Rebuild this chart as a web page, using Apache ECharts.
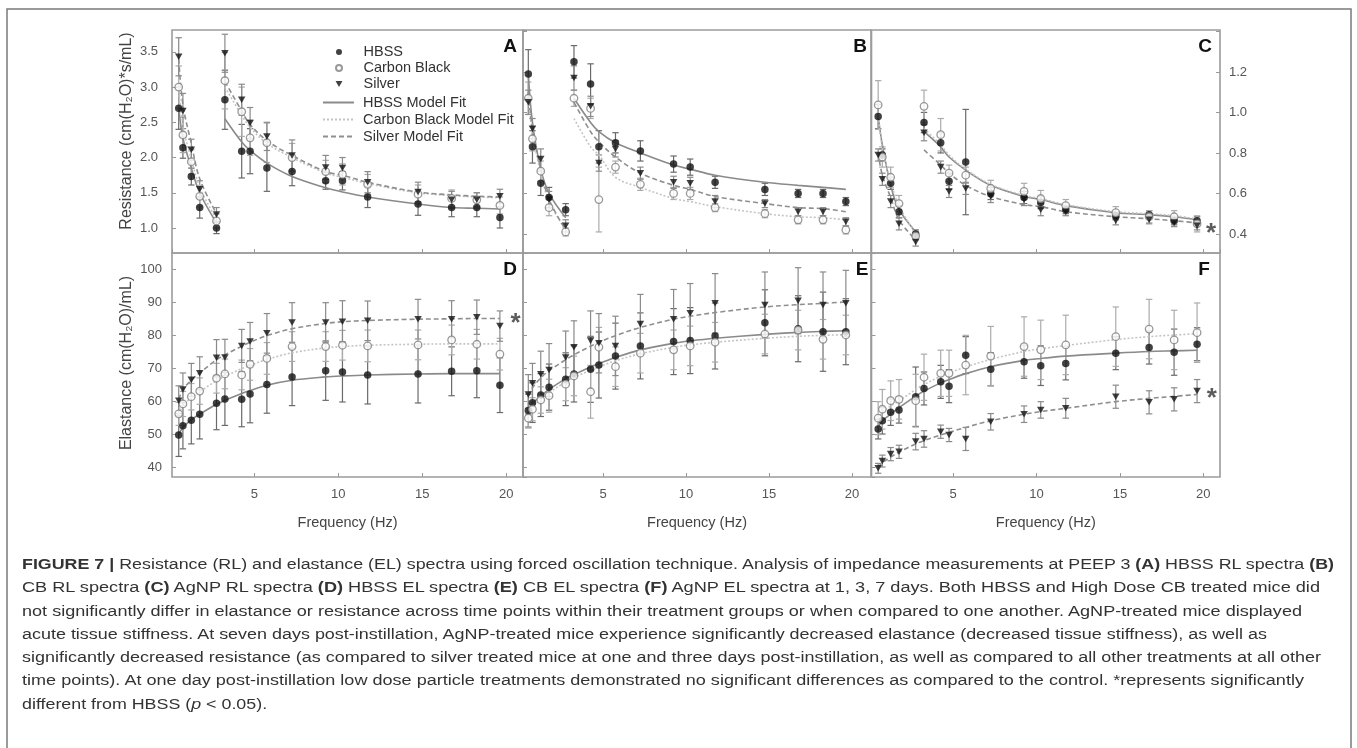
<!DOCTYPE html>
<html><head><meta charset="utf-8">
<script src="https://cdn.jsdelivr.net/npm/echarts@6/dist/echarts.min.js"></script>
<style>
html,body{margin:0;padding:0;background:#fff;}
#chart{position:absolute;left:0;top:0;width:1357px;height:748px;}
#caption{position:absolute;left:22px;top:552px;font-family:"Liberation Sans",Arial,sans-serif;font-size:15.5px;color:#333;}
#caption div{white-space:nowrap;height:23.3px;line-height:23.3px;transform-origin:0 50%;}
</style></head><body>
<div id="chart"></div>
<div id="caption"></div>
<script>
// ---------- DATA ----------
const freqs = [0.5, 0.75, 1.25, 1.75, 2.75, 3.25, 4.25, 4.75, 5.75, 7.25, 9.25, 10.25, 11.75, 14.75, 16.75, 18.25, 19.625];
const resistanceBreak = 5; // resistance curves restart at this frequency index

// Panel A: HBSS resistance
const aHbss    = [2.70, 2.14, 1.73, 1.29, 1.00, 2.82, 2.09, 2.09, 1.85, 1.80, 1.67, 1.67, 1.44, 1.34, 1.29, 1.29, 1.15];
const aHbssSd  = [0.30, 0.15, 0.12, 0.15, 0.08, 0.42, 0.38, 0.32, 0.33, 0.20, 0.12, 0.13, 0.15, 0.16, 0.13, 0.13, 0.15];
const aCb      = [3.00, 2.32, 1.94, 1.45, 1.10, 3.09, 2.65, 2.28, 2.21, 2.00, 1.80, 1.76, 1.62, 1.48, 1.42, 1.40, 1.32];
const aCbSd    = [0.30, 0.25, 0.18, 0.15, 0.10, 0.40, 0.35, 0.25, 0.28, 0.20, 0.16, 0.15, 0.14, 0.13, 0.12, 0.10, 0.12];
const aAg      = [3.43, 2.66, 2.11, 1.55, 1.19, 3.48, 2.82, 2.49, 2.30, 2.03, 1.86, 1.85, 1.65, 1.51, 1.40, 1.40, 1.45];
const aAgSd    = [0.27, 0.25, 0.15, 0.12, 0.10, 0.27, 0.22, 0.22, 0.20, 0.22, 0.17, 0.15, 0.15, 0.14, 0.12, 0.10, 0.10];
const aHbssFit = [2.70, 2.28, 1.85, 1.50, 1.07, 2.55, 2.22, 2.10, 1.92, 1.73, 1.57, 1.51, 1.44, 1.34, 1.29, 1.28, 1.27];
const aCbFit   = [3.00, 2.45, 1.98, 1.58, 1.12, 3.00, 2.60, 2.43, 2.20, 2.00, 1.78, 1.72, 1.63, 1.50, 1.46, 1.44, 1.43];
const aAgFit   = [3.40, 2.75, 2.20, 1.70, 1.20, 3.08, 2.66, 2.47, 2.24, 2.03, 1.80, 1.75, 1.65, 1.51, 1.47, 1.45, 1.44];

// Panel B: CB resistance
const bHbss    = [1.19, 0.83, 0.65, 0.58, 0.52, 1.25, 1.14, 0.83, 0.85, 0.81, 0.745, 0.73, 0.655, 0.62, 0.60, 0.60, 0.56];
const bHbssSd  = [0.12, 0.08, 0.06, 0.05, 0.03, 0.08, 0.10, 0.08, 0.05, 0.05, 0.04, 0.04, 0.03, 0.03, 0.02, 0.02, 0.02];
const bCb      = [1.07, 0.87, 0.71, 0.53, 0.41, 1.07, 1.02, 0.57, 0.73, 0.645, 0.60, 0.60, 0.53, 0.50, 0.47, 0.47, 0.42];
const bCbSd    = [0.08, 0.06, 0.05, 0.04, 0.02, 0.04, 0.05, 0.16, 0.03, 0.03, 0.03, 0.03, 0.02, 0.02, 0.02, 0.02, 0.02];
const bAg      = [1.05, 0.92, 0.77, 0.57, 0.44, 1.17, 1.03, 0.75, 0.82, 0.70, 0.655, 0.65, 0.56, 0.55, 0.51, 0.51, 0.46];
const bAgSd    = [0.06, 0.05, 0.05, 0.04, 0.03, 0.06, 0.05, 0.04, 0.04, 0.03, 0.03, 0.03, 0.03, 0.02, 0.02, 0.02, 0.02];
const bHbssFit = [1.19, 0.95, 0.72, 0.60, 0.48, 1.07, 0.95, 0.905, 0.85, 0.80, 0.74, 0.72, 0.69, 0.655, 0.64, 0.63, 0.62];
const bCbFit   = [1.08, 0.90, 0.70, 0.56, 0.42, 0.97, 0.83, 0.79, 0.68, 0.63, 0.575, 0.56, 0.535, 0.50, 0.485, 0.48, 0.47];
const bAgFit   = [1.10, 0.92, 0.72, 0.57, 0.42, 1.05, 0.905, 0.855, 0.78, 0.70, 0.64, 0.62, 0.585, 0.55, 0.53, 0.525, 0.51];

// Panel C: AgNP resistance
const cHbss    = [0.98, 0.79, 0.65, 0.51, 0.40, 0.95, 0.85, 0.66, 0.755, 0.60, 0.58, 0.555, 0.52, 0.49, 0.495, 0.465, 0.465];
const cHbssSd  = [0.06, 0.03, 0.03, 0.03, 0.02, 0.05, 0.05, 0.04, 0.26, 0.03, 0.03, 0.03, 0.02, 0.02, 0.02, 0.02, 0.02];
const cCb      = [1.037, 0.78, 0.68, 0.55, 0.39, 1.03, 0.89, 0.70, 0.69, 0.625, 0.61, 0.575, 0.54, 0.505, 0.485, 0.485, 0.45];
const cCbSd    = [0.12, 0.05, 0.05, 0.04, 0.02, 0.08, 0.08, 0.04, 0.04, 0.04, 0.04, 0.04, 0.03, 0.03, 0.03, 0.03, 0.04];
const cAg      = [0.79, 0.67, 0.56, 0.45, 0.36, 0.90, 0.73, 0.61, 0.625, 0.585, 0.57, 0.52, 0.51, 0.465, 0.47, 0.456, 0.44];
const cAgSd    = [0.03, 0.03, 0.03, 0.03, 0.02, 0.04, 0.03, 0.03, 0.03, 0.03, 0.03, 0.03, 0.02, 0.02, 0.02, 0.02, 0.02];
const cHbssFit = [0.98, 0.84, 0.64, 0.52, 0.41, 0.905, 0.83, 0.78, 0.715, 0.64, 0.585, 0.57, 0.54, 0.505, 0.495, 0.485, 0.47];
const cCbFit   = [1.00, 0.82, 0.66, 0.54, 0.40, 0.92, 0.84, 0.79, 0.72, 0.645, 0.59, 0.575, 0.545, 0.51, 0.50, 0.49, 0.475];
const cAgFit   = [0.80, 0.69, 0.58, 0.47, 0.37, 0.815, 0.74, 0.70, 0.64, 0.585, 0.545, 0.535, 0.51, 0.485, 0.475, 0.465, 0.455];

// Panel D: HBSS elastance
const dHbss    = [49.7, 52.5, 54.2, 56.0, 59.3, 60.6, 60.5, 62.1, 65.0, 67.3, 69.2, 68.8, 67.9, 68.2, 69.0, 69.2, 64.8];
const dHbssSd  = [6.5, 7.0, 7.2, 7.5, 8.0, 8.0, 8.3, 8.7, 8.7, 8.7, 9.0, 9.1, 8.8, 8.8, 7.4, 8.2, 8.3];
const dCb      = [56.1, 59.1, 61.3, 63.0, 66.9, 68.2, 67.9, 71.1, 72.9, 76.5, 76.5, 76.9, 76.7, 77.0, 78.5, 77.2, 74.2];
const dCbSd    = [3.5, 3.8, 4.0, 4.0, 4.5, 4.5, 4.5, 4.8, 4.8, 4.5, 4.5, 4.5, 4.8, 4.5, 4.5, 4.5, 4.8];
const dAg      = [60.1, 63.5, 66.4, 68.4, 73.1, 73.2, 76.7, 78.0, 80.5, 83.8, 83.8, 84.0, 84.3, 84.8, 84.8, 85.4, 82.7];
const dAgSd    = [4.5, 5.0, 5.0, 5.0, 5.5, 5.5, 5.0, 5.8, 6.0, 6.0, 6.0, 6.4, 6.0, 6.0, 5.6, 5.2, 4.6];
const dHbssFit = [49.8, 52.0, 54.3, 56.0, 59.0, 60.2, 62.3, 63.2, 64.8, 66.3, 67.3, 67.6, 67.9, 68.2, 68.3, 68.3, 68.3];
const dCbFit   = [56.0, 58.5, 61.0, 62.8, 66.2, 67.5, 69.8, 70.8, 72.6, 74.6, 76.1, 76.5, 76.9, 77.2, 77.3, 77.3, 77.3];
const dAgFit   = [60.5, 63.5, 66.3, 68.5, 72.5, 74.0, 76.6, 77.8, 79.8, 81.9, 83.5, 84.0, 84.4, 84.8, 84.9, 85.0, 85.0];

// Panel E: CB elastance
const eHbss    = [57.1, 59.5, 61.8, 64.2, 66.6, 68.2, 69.6, 70.9, 73.6, 76.7, 78.0, 78.3, 79.7, 83.7, 81.9, 81.0, 81.0];
const eHbssSd  = [5, 6, 6.5, 7, 8, 8.5, 10, 10, 10, 10, 10, 10, 10, 10, 10, 12, 10];
const eCb      = [54.8, 57.5, 60.3, 61.6, 65.1, 67.6, 62.8, 76.3, 70.4, 74.5, 75.5, 76.7, 77.8, 80.3, 81.5, 78.7, 80.0];
const eCbSd    = [3, 3.5, 4, 5, 5, 6, 8, 6, 6, 6, 6, 6, 6, 6, 6, 6, 6];
const eAg      = [62.0, 65.4, 68.1, 69.4, 73.2, 76.3, 78.3, 77.5, 76.7, 83.3, 84.8, 86.6, 89.6, 89.1, 90.4, 89.1, 89.6];
const eAgSd    = [6, 6, 7, 8, 8, 8, 9, 9, 9, 9, 9, 9, 9, 10, 10, 10, 10];
const eHbssFit = [57.0, 59.3, 61.5, 63.5, 66.8, 68.0, 70.3, 71.3, 73.2, 75.5, 77.5, 78.2, 79.0, 80.2, 80.8, 81.1, 81.3];
const eCbFit   = [55.5, 58.0, 60.5, 62.5, 65.8, 67.2, 69.3, 70.3, 72.2, 74.3, 76.3, 77.0, 77.8, 79.0, 79.6, 79.9, 80.1];
const eAgFit   = [61.5, 64.0, 67.0, 69.2, 72.5, 74.0, 76.6, 77.8, 79.8, 82.3, 84.8, 85.7, 86.8, 88.5, 89.2, 89.6, 90.0];

// Panel F: AgNP elastance
const fHbss    = [51.5, 54.0, 56.6, 57.3, 61.3, 63.8, 65.8, 64.5, 73.9, 69.6, 71.9, 70.7, 71.4, 74.5, 76.2, 74.8, 77.2];
const fHbssSd  = [3, 4, 4, 4, 9, 5, 5, 5, 5.6, 5, 5, 6, 5, 5, 5, 7, 5];
const fCb      = [54.8, 57.5, 60.1, 60.5, 60.1, 67.2, 68.4, 68.4, 70.9, 73.6, 76.5, 75.5, 77.0, 79.5, 81.8, 78.5, 80.7];
const fCbSd    = [5, 6, 6, 6, 8, 7, 7, 7, 9, 9, 9, 9, 9, 9, 9, 9, 9];
const fAg      = [39.6, 41.8, 43.9, 44.6, 47.7, 48.5, 50.7, 49.7, 48.5, 53.7, 56.0, 57.3, 57.8, 61.3, 59.6, 60.5, 63.0];
const fAgSd    = [1.5, 1.8, 2, 2, 2.5, 2.5, 2, 2, 3.5, 2.5, 2.5, 2.5, 3, 3.5, 3.5, 3.5, 3.5];
const fHbssFit = [52.0, 54.0, 56.0, 58.0, 61.5, 63.0, 65.5, 66.5, 68.3, 70.4, 72.3, 72.9, 73.6, 74.5, 75.0, 75.2, 75.4];
const fCbFit   = [54.5, 56.5, 58.5, 60.0, 63.5, 65.0, 67.5, 68.5, 70.3, 72.6, 75.0, 75.8, 76.8, 78.6, 79.5, 80.0, 80.4];
const fAgFit   = [39.8, 41.3, 43.0, 44.5, 47.0, 48.0, 49.7, 50.5, 52.0, 54.0, 56.0, 56.8, 57.8, 59.8, 60.8, 61.4, 62.0];

// significance marks: [panel, frequency, value]
const stars = [['C', 20.4, 0.425], ['D', 20.5, 84.8], ['F', 20.45, 62.1]];

const seriesNames = ['HBSS', 'Carbon Black', 'Silver'];
const fitNames = ['HBSS Model Fit', 'Carbon Black Model Fit', 'Silver Model Fit'];
const yTitleR = 'Resistance (cm(H\u2082O)*s/mL)';
const yTitleE = 'Elastance (cm(H\u2082O)/mL)';
const xTitle = 'Frequency (Hz)';

const captionLines = [
  '<b>FIGURE 7 |</b> Resistance (RL) and elastance (EL) spectra using forced oscillation technique. Analysis of impedance measurements at PEEP 3 <b>(A)</b> HBSS RL spectra <b>(B)</b>',
  'CB RL spectra <b>(C)</b> AgNP RL spectra <b>(D)</b> HBSS EL spectra <b>(E)</b> CB EL spectra <b>(F)</b> AgNP EL spectra at 1, 3, 7 days. Both HBSS and High Dose CB treated mice did',
  'not significantly differ in elastance or resistance across time points within their treatment groups or when compared to one another. AgNP-treated mice displayed',
  'acute tissue stiffness. At seven days post-instillation, AgNP-treated mice experience significantly decreased elastance (decreased tissue stiffness), as well as',
  'significantly decreased resistance (as compared to silver treated mice at one and three days post-instillation, as well as compared to all other treatments at all other',
  'time points). At one day post-instillation low dose particle treatments demonstrated no significant differences as compared to the control. *represents significantly',
  'different from HBSS (<i>p</i> &lt; 0.05).'
];
// right end (px) of each caption line in the reference; null = natural width at common scale
const captionEnds = [1334, 1320, 1302, 1267, 1321, 1304, null];

const panelData = {
  A: {hbss: aHbss, hbssSd: aHbssSd, cb: aCb, cbSd: aCbSd, ag: aAg, agSd: aAgSd, fits: [aHbssFit, aCbFit, aAgFit]},
  B: {hbss: bHbss, hbssSd: bHbssSd, cb: bCb, cbSd: bCbSd, ag: bAg, agSd: bAgSd, fits: [bHbssFit, bCbFit, bAgFit]},
  C: {hbss: cHbss, hbssSd: cHbssSd, cb: cCb, cbSd: cCbSd, ag: cAg, agSd: cAgSd, fits: [cHbssFit, cCbFit, cAgFit]},
  D: {hbss: dHbss, hbssSd: dHbssSd, cb: dCb, cbSd: dCbSd, ag: dAg, agSd: dAgSd, fits: [dHbssFit, dCbFit, dAgFit]},
  E: {hbss: eHbss, hbssSd: eHbssSd, cb: eCb, cbSd: eCbSd, ag: eAg, agSd: eAgSd, fits: [eHbssFit, eCbFit, eAgFit]},
  F: {hbss: fHbss, hbssSd: fHbssSd, cb: fCb, cbSd: fCbSd, ag: fAg, agSd: fAgSd, fits: [fHbssFit, fCbFit, fAgFit]}
};

// ---------- LAYOUT ----------
const layout = [
  {id: 'A', left: 172, top: 30, width: 351, height: 223, xMin: 0.1, xMax: 21, yMin: 0.645, yMax: 3.81, yStep: 0.5, yLabMax: 3.5, yPos: 'left', yLab: true, xLab: false, split: true, dec: 1, yMargin: 14},
  {id: 'B', left: 523, top: 30, width: 348, height: 223, xMin: 0.18, xMax: 21.14, yMin: 0.306, yMax: 1.407, yStep: 0.2, yLabMax: 1.2, yPos: 'left', yLab: false, xLab: false, split: true, dec: 1, yMargin: 8},
  {id: 'C', left: 871.5, top: 30, width: 348.5, height: 223, xMin: 0.1, xMax: 21, yMin: 0.306, yMax: 1.407, yStep: 0.2, yLabMax: 1.2, yPos: 'right', yLab: true, xLab: false, split: true, dec: 1, yMargin: 9},
  {id: 'D', left: 172, top: 253, width: 351, height: 224, xMin: 0.1, xMax: 21, yMin: 36.97, yMax: 104.85, yStep: 10, yLabMax: 100, yPos: 'left', yLab: true, xLab: true, split: false, dec: 0, yMargin: 10},
  {id: 'E', left: 523, top: 253, width: 348, height: 224, xMin: 0.18, xMax: 21.14, yMin: 36.97, yMax: 104.85, yStep: 10, yLabMax: 100, yPos: 'left', yLab: false, xLab: true, split: false, dec: 0, yMargin: 8},
  {id: 'F', left: 871.5, top: 253, width: 348.5, height: 224, xMin: 0.1, xMax: 21, yMin: 36.97, yMax: 104.85, yStep: 10, yLabMax: 100, yPos: 'left', yLab: false, xLab: true, split: false, dec: 0, yMargin: 8}
];

const FONT = '"Liberation Sans", Arial, Helvetica, sans-serif';
const markerStyles = [
  {symbol: 'circle', symbolSize: 7.5, symbolKeepAspect: true, itemStyle: {color: '#111'}},
  {symbol: 'circle', symbolSize: 7.5, symbolKeepAspect: true, itemStyle: {color: '#fff', borderColor: '#808080', borderWidth: 1.3}},
  {symbol: 'path://M0,0L10,0L5,8.7Z', symbolSize: 7.5, symbolKeepAspect: true, itemStyle: {color: '#111'}}
];
const fitStyles = [
  {color: '#8a8a8a', width: 1.6, type: 'solid'},
  {color: '#c4c4c4', width: 1.6, type: [2, 2]},
  {color: '#8f8f8f', width: 1.6, type: [5, 3]}
];
const errColors = ['#6a6a6a', '#ababab', '#8a8a8a'];

const grids = [], xAxes = [], yAxes = [], series = [];

function errSeries(k, vals, sds, color) {
  return {
    type: 'custom', xAxisIndex: k, yAxisIndex: k, silent: true, z: 2,
    encode: {x: 0, y: [1, 2]},
    data: freqs.map((f, i) => [f, vals[i] - sds[i], vals[i] + sds[i]]),
    renderItem(params, api) {
      const x = api.value(0);
      const lo = api.coord([x, api.value(1)]);
      const hi = api.coord([x, api.value(2)]);
      const w = 3.2;
      const st = {stroke: color, lineWidth: 1.2};
      return {type: 'group', children: [
        {type: 'line', shape: {x1: lo[0], y1: lo[1], x2: hi[0], y2: hi[1]}, style: st},
        {type: 'line', shape: {x1: lo[0] - w, y1: lo[1], x2: lo[0] + w, y2: lo[1]}, style: st},
        {type: 'line', shape: {x1: hi[0] - w, y1: hi[1], x2: hi[0] + w, y2: hi[1]}, style: st}
      ]};
    }
  };
}

layout.forEach((L, k) => {
  const d = panelData[L.id];
  grids.push({left: L.left, top: L.top, width: L.width, height: L.height, show: true,
    borderColor: '#9c9c9c', borderWidth: 1.6, backgroundColor: 'transparent'});
  xAxes.push({
    type: 'value', gridIndex: k, min: L.xMin, max: L.xMax, minInterval: 5, maxInterval: 5, splitNumber: 4,
    axisLine: {show: false}, splitLine: {show: false},
    axisTick: {show: true, inside: true, length: 4, lineStyle: {color: '#999'}},
    axisLabel: {show: L.xLab, showMinLabel: false, showMaxLabel: false, color: '#555', fontSize: 13, fontFamily: FONT, margin: 11},
    name: L.xLab ? xTitle : '', nameLocation: 'middle', nameGap: 38,
    nameTextStyle: {color: '#444', fontSize: 14.5, fontFamily: FONT}
  });
  yAxes.push({
    type: 'value', gridIndex: k, min: L.yMin, max: L.yMax, minInterval: L.yStep, maxInterval: L.yStep, splitNumber: 6,
    position: L.yPos,
    axisLine: {show: false}, splitLine: {show: false},
    axisTick: {show: true, inside: true, length: 4, lineStyle: {color: '#999'}},
    axisLabel: {show: L.yLab, showMinLabel: false, showMaxLabel: false, color: '#555', fontSize: 13, fontFamily: FONT,
      margin: L.yMargin, formatter: v => (v > L.yLabMax + 1e-6 ? '' : v.toFixed(L.dec))}
  });
  series.push(errSeries(k, d.hbss, d.hbssSd, errColors[0]));
  series.push(errSeries(k, d.cb, d.cbSd, errColors[1]));
  series.push(errSeries(k, d.ag, d.agSd, errColors[2]));
  d.fits.forEach((fit, j) => {
    const pts = freqs.map((f, i) => [f, fit[i]]);
    const segs = L.split ? [pts.slice(0, resistanceBreak), pts.slice(resistanceBreak)] : [pts];
    segs.forEach(seg => series.push({
      type: 'line', name: fitNames[j], xAxisIndex: k, yAxisIndex: k, data: seg,
      smooth: 0.35, symbol: 'none', z: 3, silent: true,
      lineStyle: fitStyles[j], itemStyle: {color: fitStyles[j].color}
    }));
  });
  [d.hbss, d.cb, d.ag].forEach((vals, j) => {
    series.push(Object.assign({
      type: 'scatter', name: seriesNames[j], xAxisIndex: k, yAxisIndex: k, z: 4, silent: true,
      data: freqs.map((f, i) => [f, vals[i]])
    }, JSON.parse(JSON.stringify(markerStyles[j]))));
  });
});

stars.forEach(s => {
  const k = layout.findIndex(L => L.id === s[0]);
  series.push({
    type: 'scatter', xAxisIndex: k, yAxisIndex: k, symbolSize: 1, z: 5, silent: true,
    itemStyle: {color: 'rgba(0,0,0,0)'},
    label: {show: true, position: 'inside', formatter: '*', fontSize: 26, fontWeight: 'bold', color: '#333', fontFamily: FONT, offset: [1, 5]},
    data: [[s[1], s[2]]]
  });
});

const letterPos = {A: [510, 47], B: [860, 47], C: [1205, 47], D: [510, 270], E: [862, 270], F: [1204, 270]};
const graphics = [
  {type: 'rect', silent: true, z: -1, shape: {x: 7, y: 9, width: 1344, height: 800}, style: {fill: 'none', stroke: '#7a7a7a', lineWidth: 1.5}},
  {type: 'text', x: 127, y: 131, rotation: Math.PI / 2, style: {text: yTitleR, fill: '#444', font: '16px ' + FONT, textAlign: 'center', textVerticalAlign: 'middle'}},
  {type: 'text', x: 127, y: 363, rotation: Math.PI / 2, style: {text: yTitleE, fill: '#444', font: '16px ' + FONT, textAlign: 'center', textVerticalAlign: 'middle'}}
];
Object.keys(letterPos).forEach(id => graphics.push({
  type: 'text', x: letterPos[id][0], y: letterPos[id][1],
  style: {text: id, fill: '#111', font: 'bold 19px ' + FONT, textAlign: 'center', textVerticalAlign: 'middle'}
}));

const option = {
  animation: false,
  backgroundColor: '#fff',
  grid: grids, xAxis: xAxes, yAxis: yAxes, series: series,
  legend: [
    {data: seriesNames, left: 335, top: 44, padding: 0, orient: 'vertical',
      itemWidth: 31, itemHeight: 6, itemGap: 0,
      selectedMode: false, textStyle: {color: '#333', fontSize: 14.5, fontFamily: FONT, lineHeight: 16, padding: [0, 0, 0, 4]}},
    {data: fitNames, left: 322, top: 94, padding: 0, orient: 'vertical', itemWidth: 31, itemHeight: 14, itemGap: 0,
      selectedMode: false, itemStyle: {color: 'rgba(0,0,0,0)', borderWidth: 0, opacity: 0},
      textStyle: {color: '#333', fontSize: 14.5, fontFamily: FONT, lineHeight: 17, padding: [0, 0, 0, 4]}}
  ],
  graphic: graphics
};

const chart = echarts.init(document.getElementById('chart'), null, {renderer: 'canvas'});
chart.setOption(option);

// caption
const cap = document.getElementById('caption');
captionLines.forEach(t => { const div = document.createElement('div'); div.innerHTML = '<span>' + t + '</span>'; cap.appendChild(div); });
const divs = Array.from(cap.children);
const widths = divs.map(d => d.firstChild.getBoundingClientRect().width);
const baseScale = (captionEnds[0] - 22) / widths[0];
divs.forEach((div, i) => {
  const s = captionEnds[i] ? (captionEnds[i] - 22) / widths[i] : baseScale;
  div.style.transform = 'scaleX(' + s + ')';
});
</script>
</body></html>
